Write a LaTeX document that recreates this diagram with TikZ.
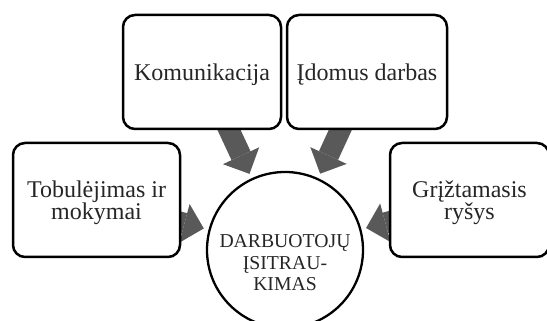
\documentclass[tikz,border=0pt]{standalone}
\usepackage{fontspec}
\setmainfont{Liberation Serif}
\usetikzlibrary{arrows.meta,calc,backgrounds}
\definecolor{arrowgray}{RGB}{89,89,89}
\definecolor{txt}{RGB}{38,38,38}
\begin{document}
\begin{tikzpicture}[x=1pt,y=1pt,
  box/.style={draw=black, line width=2.5pt, rounded corners=12pt, fill=white,
    text=txt, font=\fontsize{24}{22}\selectfont, align=center, inner sep=0pt,
    minimum height=114pt},
  oneline/.style={text height=21.4pt, text depth=5.2pt},
  twoline/.style={text height=44.4pt, text depth=5.2pt},
  hub/.style={circle, draw=black, line width=2.3pt, fill=white, minimum size=156pt, inner sep=0pt},
  hubtext/.style={text=txt, font=\fontsize{19.7}{21.5}\selectfont, align=center, inner sep=0pt},
  conn/.style={draw=arrowgray, line width=21pt,
    -{Triangle[length=20pt,width=40pt,line width=0pt]}}]
\useasboundingbox (0,0) rectangle (547,321);
\node[box, oneline, minimum width=158pt] (kom) at (202,249) {Komunikacija};
\node[box, oneline, minimum width=160pt] (ido) at (367,249) {Įdomus darbas};
\node[box, twoline, minimum width=167pt] (tob) at (96.5,121) {Tobulėjimas ir\\mokymai};
\node[box, twoline, minimum width=159pt] (grz) at (469.5,121) {Grįžtamasis\\ryšys};
\node[hub] (circ) at (285,71) {};
\node[hubtext] (ctext) at ($(circ.center)+(0,-13)$) {DARBUOTOJŲ\\ĮSITRAU-\\KIMAS};
\begin{scope}[on background layer]
  \foreach \b in {kom,ido,tob,grz}
    \draw[conn] (\b.center) -- ($(circ.center)!84pt!(\b.center)$);
\end{scope}
\end{tikzpicture}
\end{document}
